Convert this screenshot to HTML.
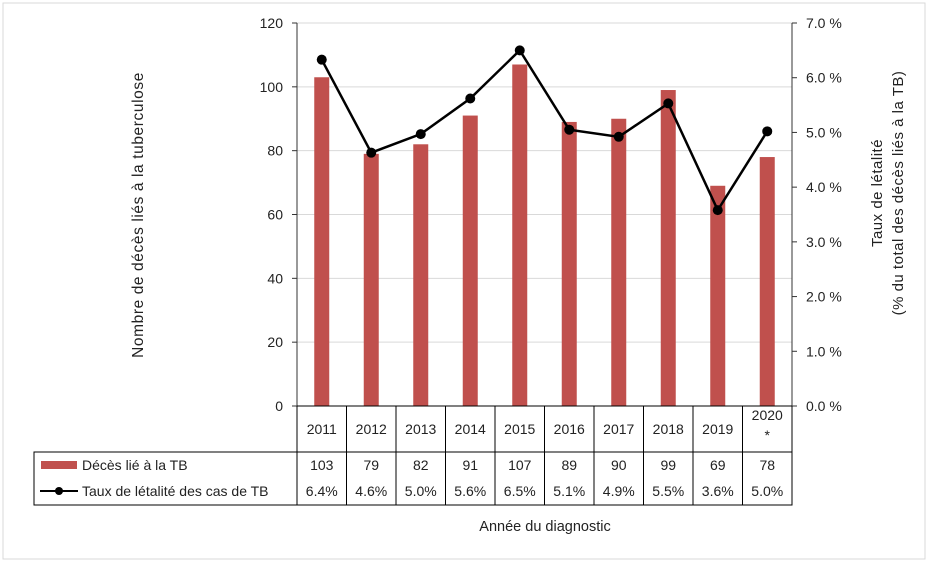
<!DOCTYPE html>
<html><head><meta charset="utf-8"><style>
body{margin:0;background:#fff;font-family:"Liberation Sans",sans-serif}
svg text{font-family:"Liberation Sans",sans-serif;fill:#222}
</style></head><body>
<svg id="c" width="929" height="565" xmlns="http://www.w3.org/2000/svg">
<rect x="3" y="3" width="922" height="556" fill="#fff" stroke="#d9d9d9"/>
<g id="g"></g>
<text transform="translate(143,215) rotate(-90)" text-anchor="middle" font-size="15.5" letter-spacing="0.6">Nombre de décès liés à la tuberculose</text>
<text transform="translate(882,193) rotate(-90)" text-anchor="middle" font-size="15" letter-spacing="0.5">Taux de létalité</text>
<text transform="translate(903,193) rotate(-90)" text-anchor="middle" font-size="15" letter-spacing="0.5">(% du total des décès liés à la TB)</text>
<text x="545" y="531" text-anchor="middle" font-size="14.5">Année du diagnostic</text>
</svg>
<script>
const years=["2011","2012","2013","2014","2015","2016","2017","2018","2019","2020"];
const deaths=[103,79,82,91,107,89,90,99,69,78];
const rates=[6.33,4.63,4.97,5.62,6.5,5.05,4.92,5.53,3.58,5.02];
const rateLabels=["6.4%","4.6%","5.0%","5.6%","6.5%","5.1%","4.9%","5.5%","3.6%","5.0%"];
const leftTicks=[0,20,40,60,80,100,120];
const rightTicks=[0,1,2,3,4,5,6,7];
const X0=297,X1=792,Y0=406,Y1=23;
const cw=(X1-X0)/years.length;
const yL=v=>Y0-(v/120)*(Y0-Y1);
const yR=v=>Y0-(v/7)*(Y0-Y1);
const xC=i=>X0+cw*(i+0.5);
const g=document.getElementById('g');
const NS="http://www.w3.org/2000/svg";
function mk(t,a,txt){const e=document.createElementNS(NS,t);for(const k in a)e.setAttribute(k,a[k]);if(txt!==undefined)e.textContent=txt;g.appendChild(e);return e;}
leftTicks.forEach(v=>{
  if(v>0){const l=mk('line',{x1:X0,x2:X1,y1:yL(v),y2:yL(v),stroke:'#d9d9d9'});
  
  }
  mk('line',{x1:X0-5,x2:X0,y1:yL(v),y2:yL(v),stroke:'#333'});
  const t=mk('text',{x:X0-14,y:yL(v)+5,'text-anchor':'end','font-size':14},String(v));
  
  
});
rightTicks.forEach(v=>{
  mk('line',{x1:X1,x2:X1+5,y1:yR(v),y2:yR(v),stroke:'#333'});
  const t=mk('text',{x:X1+14,y:yR(v)+5,'font-size':14},v.toFixed(1)+' %');
  
  
});
mk('line',{x1:X0,x2:X0,y1:Y1,y2:Y0,stroke:'#333'});
mk('line',{x1:X1,x2:X1,y1:Y1,y2:Y0,stroke:'#333'});
deaths.forEach((d,i)=>{
  const b=mk('rect',{x:xC(i)-7.5,y:yL(d),width:15,height:Y0-yL(d),fill:'#c0504d'});
  
  
});
const pl=mk('polyline',{points:rates.map((r,i)=>xC(i)+','+yR(r)).join(' '),fill:'none',stroke:'#000','stroke-width':2.5});


rates.forEach((r,i)=>{
  const c=mk('circle',{cx:xC(i),cy:yR(r),r:5,fill:'#000'});
  
  
});
const T1=452,T3=505,LX=34;
mk('line',{x1:X0,x2:X1,y1:Y0,y2:Y0,stroke:'#000'});
mk('rect',{x:LX,y:T1,width:X1-LX,height:T3-T1,fill:'none',stroke:'#000'});
for(let i=0;i<=years.length;i++)mk('line',{x1:X0+cw*i,x2:X0+cw*i,y1:Y0,y2:T3,stroke:'#000'});
years.forEach((y,i)=>{
  const t=mk('text',{x:xC(i),y:i==9?420:434,'text-anchor':'middle','font-size':14},y);
  
  
  const d=mk('text',{x:xC(i),y:470,'text-anchor':'middle','font-size':14},String(deaths[i]));
  
  
  const r=mk('text',{x:xC(i),y:496,'text-anchor':'middle','font-size':14},rateLabels[i]);
  
  
});
mk('text',{x:xC(9),y:440,'text-anchor':'middle','font-size':14},'*');
mk('rect',{x:41,y:461,width:36,height:8,fill:'#c0504d'});
const l1=mk('text',{x:82,y:470,'font-size':14},'Décès lié à la TB');


mk('line',{x1:40,x2:78,y1:491,y2:491,stroke:'#000','stroke-width':2});
mk('circle',{cx:59,cy:491,r:4,fill:'#000'});
const l2=mk('text',{x:82,y:496,'font-size':14},'Taux de létalité des cas de TB');


</script>
</body></html>
